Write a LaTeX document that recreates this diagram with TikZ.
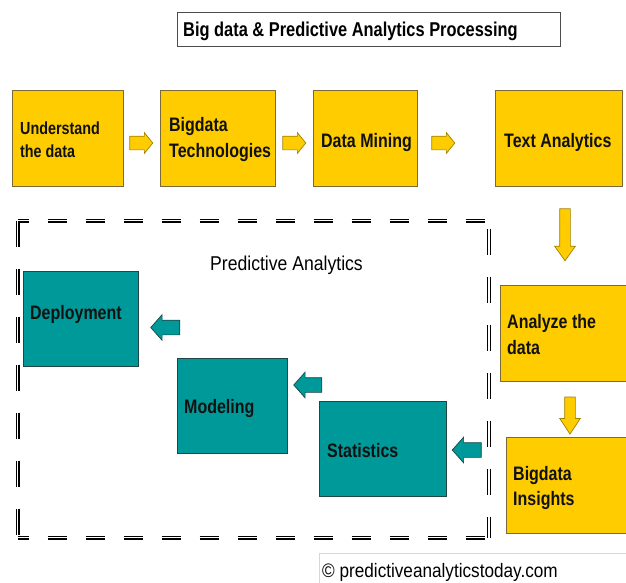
\documentclass[tikz,border=0pt]{standalone}
\usepackage{fontspec}
\setmainfont{Liberation Sans}
\newfontfamily\nf[FakeStretch=0.82]{Liberation Sans}
\newfontfamily\nfr[FakeStretch=0.88]{Liberation Sans}
\usetikzlibrary{shapes.arrows}
\definecolor{ygold}{HTML}{FFCC00}
\definecolor{yedge}{HTML}{7A6A3A}
\definecolor{yarrow}{HTML}{A08000}
\definecolor{teal1}{HTML}{009999}
\definecolor{tedge}{HTML}{1F4545}
\definecolor{cpedge}{HTML}{E6DC8C}
\definecolor{txt}{HTML}{111111}
\tikzset{
  ybox/.style={draw=yedge, fill=ygold, line width=0.8pt, inner sep=0pt},
  tbox/.style={draw=tedge, fill=teal1, line width=0.8pt, inner sep=0pt},
  btxt/.style={inner sep=0pt, anchor=base west, text=txt, font=\nf\bfseries\fontsize{19.5}{22}\selectfont},
  yarr/.style={single arrow, draw=yarrow, fill=ygold, line width=0.7pt, inner sep=0pt, minimum width=0pt},
  tarr/.style={single arrow, draw=tedge, fill=teal1, line width=0.7pt, inner sep=0pt, minimum width=0pt},
  frameh/.style={draw=black, double=white, line width=1.3pt, double distance=1.4pt, dash pattern=on 19pt off 19pt},
  framev/.style={draw=black, double=white, line width=1.3pt, double distance=1.4pt, dash pattern=on 26pt off 22pt},
}
\begin{document}
\begin{tikzpicture}[x=1pt,y=-1pt]
\useasboundingbox (0,0) rectangle (626,582);
% title
\node[draw=black!70, line width=0.8pt, minimum width=383pt, minimum height=34pt, inner sep=0pt] (title) at (368.5,29) {};
\node[inner sep=0pt, anchor=base west, font=\nf\bfseries\fontsize{20}{22}\selectfont] (titletext) at (183,36) {Big data \& Predictive Analytics Processing};
% dashed frame
\coordinate (fTL) at (17.5,220.5);
\coordinate (fTR) at (489,220.5);
\coordinate (fBR) at (489,537.5);
\coordinate (fBL) at (17.5,537.5);
\draw[frameh, dash phase=8pt] (fTL) -- (fTR);
\draw[frameh, dash phase=8pt] (fBL) -- (fBR);
\draw[framev] (fTL) -- (fBL);
\draw[framev, dash phase=-8pt] (fTR) -- (fBR);
\node[inner sep=0pt, anchor=base west, font=\nfr\fontsize{20}{22}\selectfont] (pa) at (210,270) {Predictive Analytics};
% yellow boxes
\node[ybox, minimum width=111pt, minimum height=96pt] (u) at (67.5,138) {};
\node[ybox, minimum width=115pt, minimum height=96pt] (b) at (217.5,138) {};
\node[ybox, minimum width=104pt, minimum height=96pt] (m) at (365,138) {};
\node[ybox, minimum width=127pt, minimum height=96pt] (t) at (558.5,138) {};
\node[ybox, minimum width=130pt, minimum height=96pt] (a) at (565,333) {};
\node[ybox, minimum width=124pt, minimum height=96pt] (i) at (568,485) {};
% teal boxes
\node[tbox, minimum width=115pt, minimum height=95pt] (dep) at (80.5,318.5) {};
\node[tbox, minimum width=110pt, minimum height=95pt] (mod) at (232,405.5) {};
\node[tbox, minimum width=127pt, minimum height=95pt] (stat) at (382.5,448.5) {};
% texts
\node[btxt, font=\nf\bfseries\fontsize{17.5}{20}\selectfont] (u1) at (20,134) {Understand};
\node[btxt, font=\nf\bfseries\fontsize{17.5}{20}\selectfont] (u2) at (20,157) {the data};
\node[btxt] (b1) at (169,131) {Bigdata};
\node[btxt] (b2) at (169,157) {Technologies};
\node[btxt] (m1) at (321,147) {Data Mining};
\node[btxt] (t1) at (504,147) {Text Analytics};
\node[btxt] (a1) at (507,328) {Analyze the};
\node[btxt] (a2) at (507,354) {data};
\node[btxt] (i1) at (513,480) {Bigdata};
\node[btxt] (i2) at (513,505) {Insights};
\node[btxt] (dep1) at (30,319) {Deployment};
\node[btxt] (mod1) at (184,413) {Modeling};
\node[btxt] (stat1) at (327,457) {Statistics};
% yellow arrows
\node[yarr, inner ysep=6.5pt, single arrow head extend=3.5pt, single arrow tip angle=102, minimum height=23pt] (ar1) at (138.5,143) {};
\node[yarr, inner ysep=6.5pt, single arrow head extend=3.5pt, single arrow tip angle=102, minimum height=23pt] (ar2) at (291.5,143) {};
\node[yarr, inner ysep=6.5pt, single arrow head extend=3.5pt, single arrow tip angle=102, minimum height=23pt] (ar3) at (440.5,143) {};
\node[yarr, shape border rotate=270, inner xsep=5pt, inner ysep=5pt, single arrow head extend=5pt, single arrow tip angle=71, minimum height=52pt] (ar4) at (565,231) {};
\node[yarr, shape border rotate=270, inner xsep=5pt, inner ysep=5pt, single arrow head extend=5pt, single arrow tip angle=67, minimum height=37pt] (ar5) at (570,411.5) {};
% teal arrows
\node[tarr, shape border rotate=180, inner ysep=7pt, single arrow head extend=5.5pt, single arrow tip angle=97, minimum height=29pt] (ar6) at (470,450) {};
\node[tarr, shape border rotate=180, inner ysep=7pt, single arrow head extend=5.5pt, single arrow tip angle=97, minimum height=28pt] (ar7) at (311,385) {};
\node[tarr, shape border rotate=180, inner ysep=7pt, single arrow head extend=5.5pt, single arrow tip angle=97, minimum height=29pt] (ar8) at (168.5,327.5) {};
% copyright
\node[draw=cpedge, fill=white, line width=1pt, minimum width=311pt, minimum height=37pt, inner sep=0pt] (cp) at (474.5,571.5) {};
\node[inner sep=0pt, anchor=base west, font=\nfr\fontsize{19.5}{22}\selectfont] (cpt) at (322,577) {\textcopyright{} predictiveanalyticstoday.com};
\end{tikzpicture}
\end{document}
